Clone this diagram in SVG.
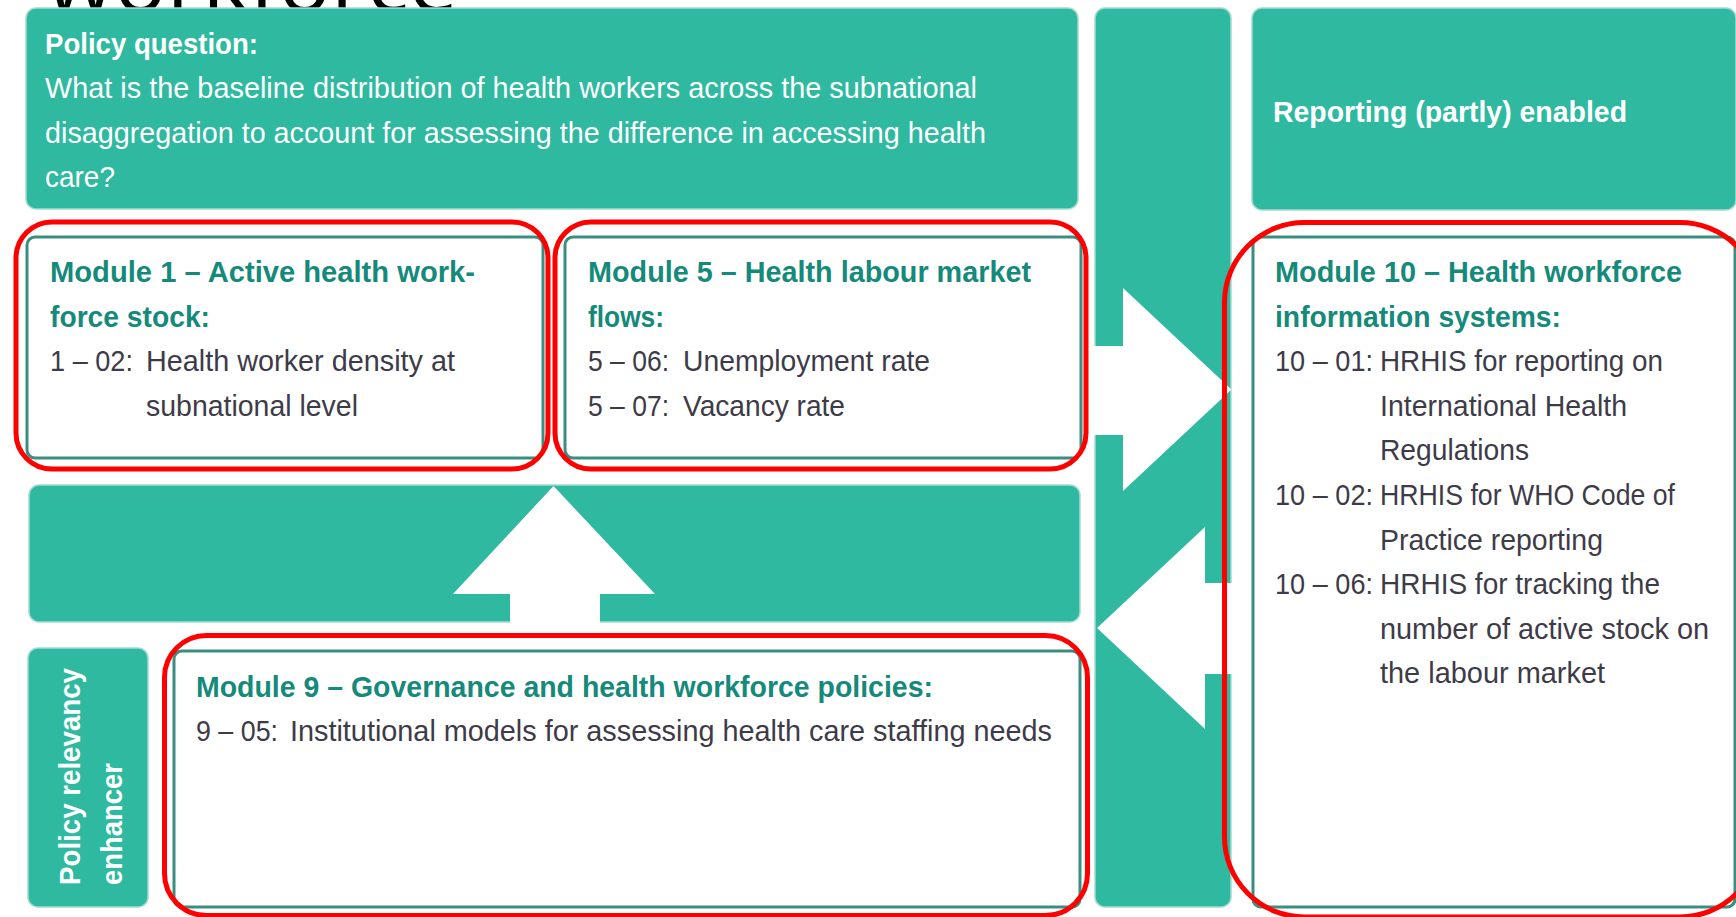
<svg xmlns="http://www.w3.org/2000/svg" width="1736" height="917" viewBox="0 0 1736 917">
  <style>
    .band { fill: #2eb9a0; stroke: #a3dbce; stroke-width: 1.5; }
    .frame { fill: #ffffff; stroke: #3a8e7f; stroke-width: 3; }
    .hl { fill: none; stroke: #ff0000; stroke-width: 5; }
    .cut { fill: #ffffff; }
    text { font-family: "Liberation Sans Narrow", "Liberation Sans", Arial, sans-serif; font-size: 30px; }
    .wt { fill: #ffffff; }
    .b { font-weight: bold; }
    .h { fill: #158a7b; font-weight: bold; }
    .t { fill: #3e3b48; }
    .title { font-family: "Open Sans", "Liberation Sans", sans-serif; font-size: 88px; fill: #000000; }
  </style>

  <rect width="1736" height="917" fill="#ffffff"/>

  <!-- slide title, clipped by the top edge -->
  <text class="title" x="46" y="12" textLength="412" lengthAdjust="spacingAndGlyphs">workforce</text>

  <!-- policy question banner -->
  <g id="policy-question">
    <rect class="band" x="26" y="8" width="1052" height="201" rx="10"/>
    <text class="wt b" x="45" y="54" textLength="213" lengthAdjust="spacingAndGlyphs">Policy question:</text>
    <text class="wt" x="45" y="98" textLength="932" lengthAdjust="spacingAndGlyphs">What is the baseline distribution of health workers across the subnational</text>
    <text class="wt" x="45" y="143" textLength="941" lengthAdjust="spacingAndGlyphs">disaggregation to account for assessing the difference in accessing health</text>
    <text class="wt" x="45" y="187" textLength="70" lengthAdjust="spacingAndGlyphs">care?</text>
  </g>

  <!-- reporting banner -->
  <g id="reporting">
    <rect class="band" x="1252" y="8" width="484" height="202" rx="10"/>
    <text class="wt b" x="1273" y="122" textLength="354" lengthAdjust="spacingAndGlyphs">Reporting (partly) enabled</text>
  </g>

  <!-- central exchange column and middle band -->
  <g id="exchange-column">
    <rect class="band" x="1095" y="8" width="136" height="899" rx="10"/>
  </g>
  <g id="middle-band">
    <rect class="band" x="29" y="485" width="1051" height="137" rx="10"/>
  </g>

  <!-- policy relevancy enhancer label -->
  <g id="policy-relevancy">
    <rect class="band" x="28" y="648" width="120" height="259" rx="10"/>
    <text class="wt b" transform="translate(80,885) rotate(-90)" textLength="217" lengthAdjust="spacingAndGlyphs">Policy relevancy</text>
    <text class="wt b" transform="translate(122,885) rotate(-90)" textLength="122" lengthAdjust="spacingAndGlyphs">enhancer</text>
  </g>

  <!-- block arrows cut out of the teal shapes -->
  <g id="connectors">
    <polygon class="cut" points="553.5,486 655,594 600,594 600,624 510,624 510,594 453,594"/>
    <polygon class="cut" points="1093,346 1123,346 1123,288 1231.5,389.5 1123,491 1123,435 1093,435"/>
    <polygon class="cut" points="1097,628 1205,527 1205,583 1233,583 1233,674 1205,674 1205,729"/>
  </g>

  <!-- module 1 -->
  <g id="module-1">
    <rect class="frame" x="27" y="237" width="516" height="221" rx="8"/>
    <text class="h" x="50" y="282" textLength="425" lengthAdjust="spacingAndGlyphs">Module 1 – Active health work-</text>
    <text class="h" x="50" y="327" textLength="160" lengthAdjust="spacingAndGlyphs">force stock:</text>
    <text class="t" x="50" y="371" textLength="83" lengthAdjust="spacingAndGlyphs">1 – 02:</text>
    <text class="t" x="146" y="371" textLength="309" lengthAdjust="spacingAndGlyphs">Health worker density at</text>
    <text class="t" x="146" y="416" textLength="212" lengthAdjust="spacingAndGlyphs">subnational level</text>
  </g>

  <!-- module 5 -->
  <g id="module-5">
    <rect class="frame" x="565" y="237" width="516" height="221" rx="8"/>
    <text class="h" x="588" y="282" textLength="443" lengthAdjust="spacingAndGlyphs">Module 5 – Health labour market</text>
    <text class="h" x="588" y="327" textLength="76" lengthAdjust="spacingAndGlyphs">flows:</text>
    <text class="t" x="588" y="371" textLength="81" lengthAdjust="spacingAndGlyphs">5 – 06:</text>
    <text class="t" x="683" y="371" textLength="247" lengthAdjust="spacingAndGlyphs">Unemployment rate</text>
    <text class="t" x="588" y="416" textLength="81" lengthAdjust="spacingAndGlyphs">5 – 07:</text>
    <text class="t" x="683" y="416" textLength="162" lengthAdjust="spacingAndGlyphs">Vacancy rate</text>
  </g>

  <!-- module 9 -->
  <g id="module-9">
    <rect class="frame" x="174" y="651" width="906" height="256" rx="8"/>
    <text class="h" x="196" y="697" textLength="737" lengthAdjust="spacingAndGlyphs">Module 9 – Governance and health workforce policies:</text>
    <text class="t" x="196" y="741" textLength="82" lengthAdjust="spacingAndGlyphs">9 – 05:</text>
    <text class="t" x="290" y="741" textLength="762" lengthAdjust="spacingAndGlyphs">Institutional models for assessing health care staffing needs</text>
  </g>

  <!-- module 10 -->
  <g id="module-10">
    <rect class="frame" x="1253" y="237" width="482" height="670" rx="8"/>
    <text class="h" x="1275" y="282" textLength="407" lengthAdjust="spacingAndGlyphs">Module 10 – Health workforce</text>
    <text class="h" x="1275" y="327" textLength="286" lengthAdjust="spacingAndGlyphs">information systems:</text>
    <text class="t" x="1275" y="371" textLength="98" lengthAdjust="spacingAndGlyphs">10 – 01:</text>
    <text class="t" x="1380" y="371" textLength="283" lengthAdjust="spacingAndGlyphs">HRHIS for reporting on</text>
    <text class="t" x="1380" y="416" textLength="247" lengthAdjust="spacingAndGlyphs">International Health</text>
    <text class="t" x="1380" y="460" textLength="149" lengthAdjust="spacingAndGlyphs">Regulations</text>
    <text class="t" x="1275" y="505" textLength="98" lengthAdjust="spacingAndGlyphs">10 – 02:</text>
    <text class="t" x="1380" y="505" textLength="295" lengthAdjust="spacingAndGlyphs">HRHIS for WHO Code of</text>
    <text class="t" x="1380" y="550" textLength="223" lengthAdjust="spacingAndGlyphs">Practice reporting</text>
    <text class="t" x="1275" y="594" textLength="98" lengthAdjust="spacingAndGlyphs">10 – 06:</text>
    <text class="t" x="1380" y="594" textLength="280" lengthAdjust="spacingAndGlyphs">HRHIS for tracking the</text>
    <text class="t" x="1380" y="639" textLength="329" lengthAdjust="spacingAndGlyphs">number of active stock on</text>
    <text class="t" x="1380" y="683" textLength="225" lengthAdjust="spacingAndGlyphs">the labour market</text>
  </g>

  <!-- red highlight outlines -->
  <g id="highlights">
    <rect class="hl" x="16" y="222" width="532" height="247" rx="36"/>
    <rect class="hl" x="555" y="222" width="531" height="247" rx="36"/>
    <rect class="hl" x="164.5" y="635.5" width="923" height="280" rx="42"/>
    <rect class="hl" x="1224.5" y="222.5" width="535.5" height="694.5" rx="80"/>
  </g>
</svg>
